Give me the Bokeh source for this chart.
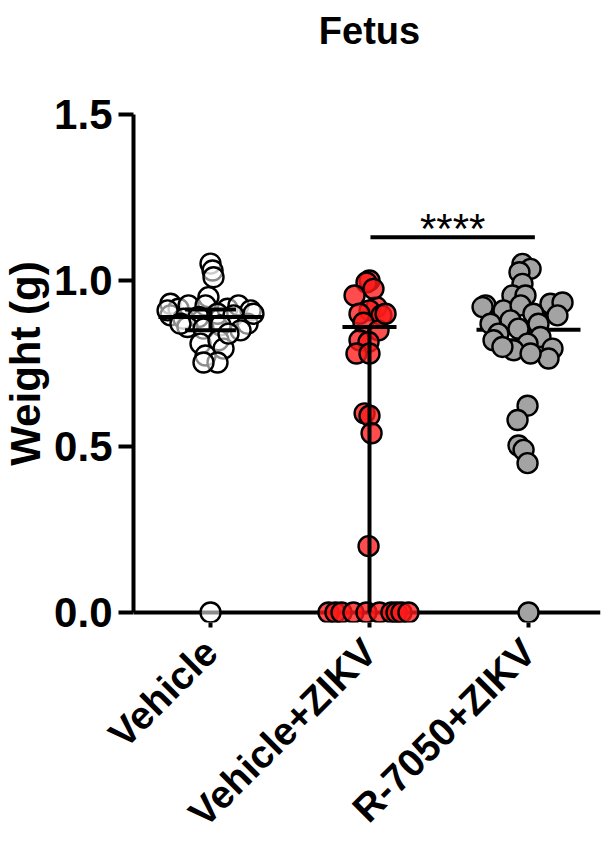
import math
from bokeh.plotting import figure
from bokeh.layouts import row
from bokeh.models import Range1d, FixedTicker, Span, Label, NumeralTickFormatter
from bokeh.core.properties import value
from bokeh.embed import file_html
from bokeh.resources import INLINE

# ---------------- data ----------------
groups = ["Vehicle", "Vehicle+ZIKV", "R-7050+ZIKV"]

veh_w = [1.051, 1.03, 1.01, 0.95, 0.93, 0.915, 0.925, 0.925, 0.915, 0.925, 0.91,
         0.895, 0.885, 0.89, 0.90, 0.895, 0.87, 0.86, 0.855, 0.865, 0.85, 0.81,
         0.82, 0.795, 0.774, 0.753, 0.753, 0.90, 0.91, 0.87, 0.84, 0.0]
veh_dx = [0.0, 0.013, 0.019, -0.013, -0.252, -0.201, -0.138, -0.031, 0.107, 0.176, 0.252,
          -0.252, -0.170, -0.075, 0.044, 0.145, 0.233, -0.145, -0.044, 0.063, 0.189, -0.063,
          0.050, 0.082, -0.031, 0.044, -0.044, 0.270, -0.270, -0.189, 0.113, 0.0]

zikv_w = [1.0, 0.994, 0.955, 0.92, 0.91, 0.90, 0.895, 0.873, 0.85, 0.82, 0.815,
          0.78, 0.78, 0.975, 0.90, 0.60, 0.593, 0.54, 0.20,
          0.0, 0.0, 0.0, 0.0, 0.0, 0.0, 0.0, 0.0, 0.0, 0.0]
zikv_dx = [0.0, -0.019, -0.094, 0.044, 0.0, -0.063, 0.075, -0.038, 0.057, -0.063, -0.006,
           -0.082, 0.0, 0.025, 0.101, -0.031, 0.0, 0.013, -0.006,
           -0.258, -0.214, -0.176, -0.101, -0.019, 0.063, 0.138, 0.170, 0.201, 0.245]

r7050_w = [1.05, 1.035, 1.025, 0.99, 0.955, 0.955, 0.925, 0.92, 0.91, 0.925, 0.93,
           0.934, 0.895, 0.90, 0.87, 0.88, 0.855, 0.87, 0.84, 0.82, 0.83, 0.81,
           0.79, 0.795, 0.765, 0.80, 0.78, 0.623, 0.58, 0.503, 0.49, 0.45, 0.0]
r7050_dx = [-0.038, 0.013, -0.057, -0.038, -0.101, -0.019, -0.270, -0.289, -0.157, -0.050, 0.138,
            0.214, 0.182, 0.031, -0.239, -0.113, -0.063, 0.063, -0.189, -0.220, 0.075, -0.006,
            -0.094, 0.151, 0.126, -0.164, 0.013, -0.006, -0.069, -0.063, -0.031, -0.006, 0.0]

medians = [0.89, 0.86, 0.852]
err_lo = [0.85, 0.0, 0.82]
err_hi = [0.913, 0.86, 0.90]

sig_from, sig_to = 1.006, 2.04
sig_y = 1.13
sig_text = "****"
title_text = "Fetus"
ylabel_text = "Weight (g)"
yticks = [0.0, 0.5, 1.0, 1.5]

FONT = "Liberation Sans"
LABEL_W = 50

yr = Range1d(-0.03, 1.8434)

# ---- narrow panel holding the y-axis title ----
lab = figure(frame_width=LABEL_W, frame_height=622, output_backend="svg",
             toolbar_location=None, x_range=Range1d(0, LABEL_W), y_range=yr,
             min_border_left=0, min_border_right=0, min_border_top=0,
             min_border_bottom=218, x_axis_type=None, y_axis_type=None,
             background_fill_color="white", border_fill_color="white")
lab.outline_line_color = None
lab.xgrid.visible = False
lab.ygrid.visible = False
lab.text(x=[25], y=[(yticks[0] + yticks[-1]) / 2], text=[ylabel_text], angle=math.pi / 2,
         text_font=value(FONT), text_font_size="42px", text_font_style="bold",
         text_color="black", text_align="center", text_baseline="middle")

# ---- main plot ----
p = figure(frame_width=467, frame_height=622, output_backend="svg",
           toolbar_location=None,
           x_range=Range1d(-0.4843, 2.4528), y_range=yr,
           min_border_left=133 - LABEL_W, min_border_right=2, min_border_top=0,
           min_border_bottom=218, background_fill_color="white",
           border_fill_color="white")
p.outline_line_color = None
p.xgrid.visible = False
p.ygrid.visible = False

# x axis line at y = 0 (drawn under the points)
p.add_layout(Span(location=0, dimension="width", line_color="black",
                  line_width=4, level="underlay"))

def summary(i, half_w, cap_w):
    x0 = i
    p.segment(x0 - half_w, medians[i], x0 + half_w, medians[i],
              line_color="black", line_width=4)
    p.segment(x0, err_lo[i], x0, err_hi[i], line_color="black", line_width=4)
    if cap_w > 0:
        p.segment(x0 - cap_w, err_lo[i], x0 + cap_w, err_lo[i], line_color="black", line_width=4)
        p.segment(x0 - cap_w, err_hi[i], x0 + cap_w, err_hi[i], line_color="black", line_width=4)

# R-7050 summary beneath its points
summary(2, 0.327, 0.16)

p.scatter([0 + d for d in veh_dx], veh_w, size=20, fill_color="white", fill_alpha=0.55,
          line_color="black", line_width=2.4)
p.scatter([1 + d for d in zikv_dx], zikv_w, size=20, fill_color="#ff1a1a", fill_alpha=0.78,
          line_color="black", line_width=2.4)
p.scatter([2 + d for d in r7050_dx], r7050_w, size=20, fill_color="#a3a3a3", fill_alpha=1.0,
          line_color="black", line_width=2.4)

summary(0, 0.327, 0.16)
summary(1, 0.17, 0)

# significance
p.segment(sig_from, sig_y, sig_to, sig_y, line_color="black", line_width=4)
p.add_layout(Label(x=(sig_from + sig_to) / 2, y=sig_y + 0.097, text=sig_text,
                   text_font=FONT, text_font_size="42px", text_align="center",
                   text_baseline="top", text_color="black"))

# title
p.add_layout(Label(x=1.0, y=1.753, text=title_text, text_font=FONT,
                   text_font_size="38px", text_font_style="bold", text_color="black",
                   text_align="center", text_baseline="alphabetic"))

# axes
xa = p.xaxis[0]
xa.ticker = FixedTicker(ticks=[0, 1, 2])
xa.major_label_overrides = {0: groups[0], 1: groups[1], 2: groups[2]}
xa.major_label_orientation = math.pi / 4
xa.major_label_text_font = FONT
xa.major_label_text_font_size = "39px"
xa.major_label_text_font_style = "bold"
xa.major_label_text_color = "black"
xa.axis_line_color = None
xa.major_tick_in = 0
xa.major_tick_out = 5
xa.major_tick_line_width = 4
xa.minor_tick_line_color = None
xa.major_label_standoff = 18

ya = p.yaxis[0]
ya.bounds = (0, 1.5)
ya.ticker = FixedTicker(ticks=yticks)
ya.formatter = NumeralTickFormatter(format="0.0")
ya.major_label_text_font = FONT
ya.major_label_text_font_size = "42px"
ya.major_label_text_font_style = "bold"
ya.major_label_text_color = "black"
ya.axis_line_width = 4
ya.major_tick_in = 0
ya.major_tick_out = 15
ya.major_tick_line_width = 4
ya.minor_tick_line_color = None
ya.major_label_standoff = 6

layout = row(lab, p)
open("out.html", "w").write(file_html(layout, INLINE))
